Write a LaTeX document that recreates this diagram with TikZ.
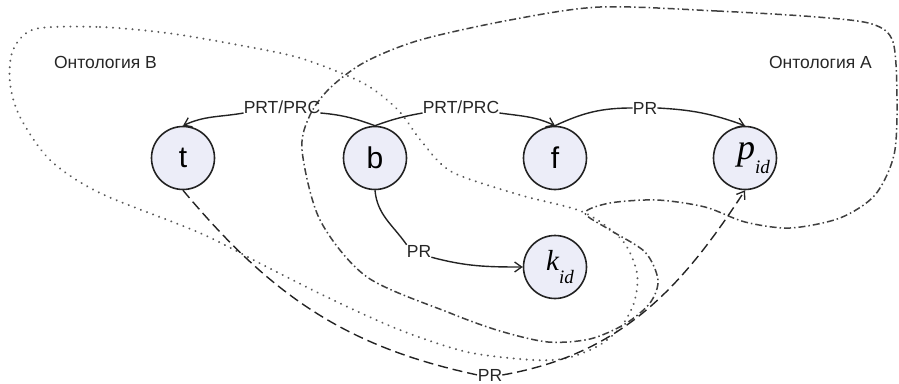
\documentclass[tikz,border=0pt]{standalone}
\usepackage{fontspec}
\setmainfont{Liberation Sans}
\newfontfamily\tmsfont{Liberation Serif}
\usetikzlibrary{arrows.meta}
\definecolor{nodefill}{RGB}{236,237,248}
\definecolor{lncol}{RGB}{35,35,35}
\begin{document}
\begin{tikzpicture}[x=1pt,y=-1pt,
  vert/.style={circle,draw=lncol,line width=1.6pt,fill=nodefill,minimum size=63pt,inner sep=0pt,font=\fontsize{30}{30}\selectfont},
  lbl/.style={inner sep=0pt,font=\fontsize{17.5}{17.5}\selectfont,text=black!85},
  conn/.style={line width=1.4pt,draw=lncol},
  arr/.style={conn,-{Straight Barb[length=7pt,width=10pt,line width=1.3pt]}},
  dashline/.style={conn,dash pattern=on 10pt off 5pt},
  dashconn/.style={arr,dash pattern=on 10pt off 5pt},
  ontA/.style={line width=1.5pt,draw=black!75,dash pattern=on 7pt off 3pt on 1.5pt off 3pt},
  ontB/.style={line width=2.2pt,draw=black!65,dash pattern=on 0.01pt off 6.5pt,line cap=round}]
\useasboundingbox (0,0) rectangle (899,383);

% ontology boundaries
\draw[ontB] plot[smooth cycle] coordinates {(35,29) (100,27) (167,33) (233,44) (300,58) (363,83) (398,110) (422,142) (452,172) (520,195) (583,212) (622,240) (637,273) (634,303) (620,328) (598,346) (567,358) (533,360) (467,352) (400,330) (333,300) (267,267) (200,233) (100,193) (50,160) (20,117) (10,83) (13,50)};
\draw[ontA] plot[smooth cycle] coordinates {(600,7) (717,11) (817,17) (872,24) (893,42) (897,100) (894,155) (875,195) (840,218) (790,228) (745,222) (705,207) (657,200) (610,203) (585,213) (610,230) (645,252) (658,280) (650,303) (625,324) (590,339) (548,342) (500,331) (450,313) (367,277) (320,220) (302,150) (310,115) (330,88) (365,62) (420,40) (510,20)};

\node[lbl] (ontBlab) at (105.5,62) {Онтология B};
\node[lbl] (ontAlab) at (820.5,62) {Онтология A};

% nodes
\node[vert] (t) at (183,158) {t};
\node[vert] (b) at (375,158) {b};
\node[vert] (f) at (555,158) {f};
\node[vert] (p) at (745,158) {\hspace*{17pt}\tmsfont\itshape{\fontsize{36}{36}\selectfont p}\raisebox{-14pt}{\fontsize{19}{19}\selectfont id}};
\node[vert] (k) at (555,267) {\hspace*{10pt}\tmsfont\itshape{\fontsize{29}{29}\selectfont k}\raisebox{-13pt}{\fontsize{19}{19}\selectfont id}};

% edge labels
\node[lbl,anchor=base] (l1) at (282,113) {PRT/PRC};
\node[lbl,anchor=base] (l2) at (461,113) {PRT/PRC};
\node[lbl,anchor=base] (l3) at (645,114) {PR};
\node[lbl,anchor=base] (l4) at (419,257) {PR};
\node[lbl,anchor=base] (l5) at (490,381) {PR};

% edges
\draw[conn] (b.north) to[out=160,in=-5] (l1.base east);
\draw[arr] (l1.base west) to[out=190,in=25] (t.north);
\draw[conn] (b.north) to[out=20,in=190] (l2.base west);
\draw[arr] (l2.base east) to[out=-8,in=155] (f.north);
\draw[conn] (f.north) to[out=25,in=180] (l3.west);
\draw[arr] (l3.east) to[out=-3,in=160] (p.north);
\draw[conn] (b.south) to[out=-85,in=125] (l4.north west);
\draw[arr] (l4.south east) to[out=-15,in=180] (k.west);
\draw[dashline] (t.south) to[out=-50,in=168] (l5.west);
\draw[dashconn] (l5.east) to[out=10,in=-123] (p.south);
\end{tikzpicture}
\end{document}
